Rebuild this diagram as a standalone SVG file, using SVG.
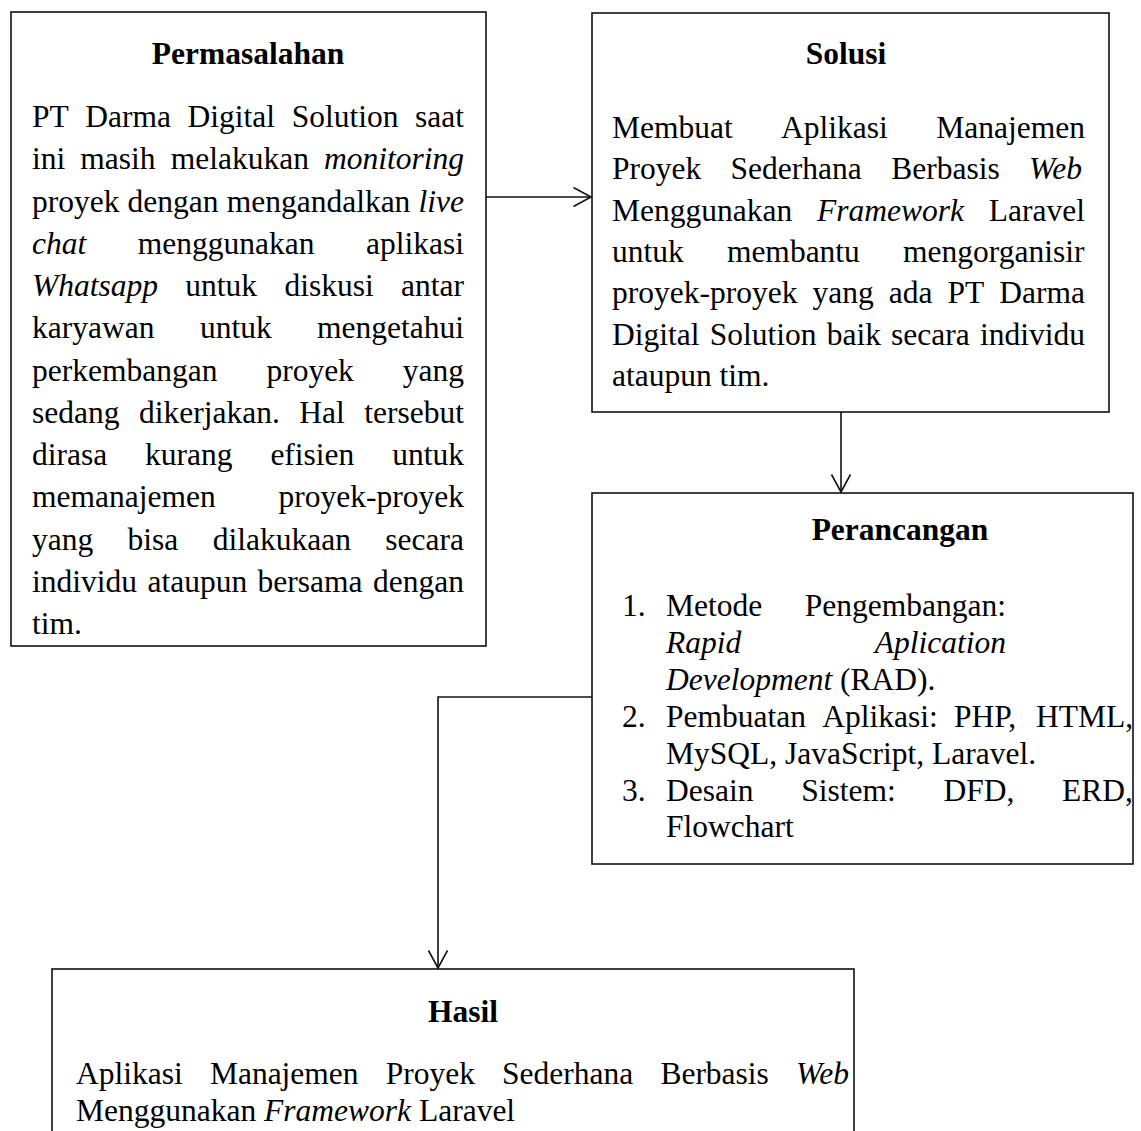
<svg xmlns="http://www.w3.org/2000/svg" width="1141" height="1131" viewBox="0 0 1141 1131">
<style>
text{font-family:"Liberation Serif","Times New Roman",serif;font-size:31.5px;fill:#000}
.b{font-weight:bold;text-anchor:middle}
.i{font-style:italic}
.box{fill:#fff;stroke:#111;stroke-width:1.6}
.con{fill:none;stroke:#111;stroke-width:1.6}
</style>
<defs>
<marker id="arr" markerWidth="22" markerHeight="22" refX="18" refY="10" orient="auto" markerUnits="userSpaceOnUse">
<path d="M0.5,0.5 L18,10 L0.5,19.5" fill="none" stroke="#111" stroke-width="1.6"/>
</marker>
</defs>
<rect x="0" y="0" width="1141" height="1131" fill="#fff"/>

<g id="permasalahan">
<rect class="box" x="11" y="12" width="475" height="634"/>
<text class="b" x="248" y="64">Permasalahan</text>
<text y="127"><tspan x="32">PT</tspan><tspan x="85.3">Darma</tspan><tspan x="187.6">Digital</tspan><tspan x="291.7">Solution</tspan><tspan x="415">saat</tspan></text>
<text y="169.25"><tspan x="32">ini</tspan><tspan x="80.3">masih</tspan><tspan x="170.7">melakukan</tspan><tspan x="324" class="i">monitoring</tspan></text>
<text y="211.5"><tspan x="32">proyek</tspan><tspan x="127.6">dengan</tspan><tspan x="226.7">mengandalkan</tspan><tspan x="418.5" class="i">live</tspan></text>
<text y="253.75"><tspan x="32" class="i">chat</tspan><tspan x="137.8">menggunakan</tspan><tspan x="366">aplikasi</tspan></text>
<text y="296"><tspan x="32" class="i">Whatsapp</tspan><tspan x="185.3">untuk</tspan><tspan x="284.4">diskusi</tspan><tspan x="401">antar</tspan></text>
<text y="338.25"><tspan x="32">karyawan</tspan><tspan x="199.9">untuk</tspan><tspan x="317">mengetahui</tspan></text>
<text y="380.5"><tspan x="32">perkembangan</tspan><tspan x="266.4">proyek</tspan><tspan x="402.8">yang</tspan></text>
<text y="422.75"><tspan x="32">sedang</tspan><tspan x="139">dikerjakan.</tspan><tspan x="299.3">Hal</tspan><tspan x="364.3">tersebut</tspan></text>
<text y="465"><tspan x="32">dirasa</tspan><tspan x="145.1">kurang</tspan><tspan x="270.4">efisien</tspan><tspan x="392.2">untuk</tspan></text>
<text y="507.25"><tspan x="32">memanajemen</tspan><tspan x="278.6">proyek-proyek</tspan></text>
<text y="549.5"><tspan x="32">yang</tspan><tspan x="127.6">bisa</tspan><tspan x="212.7">dilakukaan</tspan><tspan x="385.3">secara</tspan></text>
<text y="591.75"><tspan x="32">individu</tspan><tspan x="147.5">ataupun</tspan><tspan x="257.6">bersama</tspan><tspan x="373">dengan</tspan></text>
<text x="32" y="634">tim.</text>
</g>

<g id="solusi">
<rect class="box" x="592" y="13" width="517" height="399"/>
<text class="b" x="846" y="64">Solusi</text>
<text y="138"><tspan x="612">Membuat</tspan><tspan x="781.1">Aplikasi</tspan><tspan x="936.3">Manajemen</tspan></text>
<text y="179.3"><tspan x="612">Proyek</tspan><tspan x="730.6">Sederhana</tspan><tspan x="891.2">Berbasis</tspan><tspan x="1029" class="i">Web</tspan></text>
<text y="220.6"><tspan x="612">Menggunakan</tspan><tspan x="817" class="i">Framework</tspan><tspan x="988.8">Laravel</tspan></text>
<text y="261.9"><tspan x="612">untuk</tspan><tspan x="726.9">membantu</tspan><tspan x="903">mengorganisir</tspan></text>
<text y="303.2"><tspan x="612">proyek-proyek</tspan><tspan x="812.5">yang</tspan><tspan x="888.7">ada</tspan><tspan x="947.5">PT</tspan><tspan x="999.3">Darma</tspan></text>
<text y="344.5"><tspan x="612">Digital</tspan><tspan x="709.7">Solution</tspan><tspan x="826.7">baik</tspan><tspan x="891.1">secara</tspan><tspan x="980">individu</tspan></text>
<text x="612" y="385.8">ataupun tim.</text>
</g>

<g id="perancangan">
<rect class="box" x="592" y="493" width="541" height="371"/>
<text class="b" x="900" y="540">Perancangan</text>
<text y="616"><tspan x="622">1.</tspan><tspan x="666">Metode</tspan><tspan x="804.8">Pengembangan:</tspan></text>
<text y="652.9" class="i"><tspan x="666">Rapid</tspan><tspan x="874.7">Aplication</tspan></text>
<text x="666" y="689.8"><tspan class="i">Development</tspan> (RAD).</text>
<text y="726.7"><tspan x="622">2.</tspan><tspan x="666">Pembuatan</tspan><tspan x="822.2">Aplikasi:</tspan><tspan x="954">PHP,</tspan><tspan x="1035.9">HTML,</tspan></text>
<text x="666" y="763.6">MySQL, JavaScript, Laravel.</text>
<text y="800.5"><tspan x="622">3.</tspan><tspan x="666">Desain</tspan><tspan x="801.2">Sistem:</tspan><tspan x="943.5">DFD,</tspan><tspan x="1062.1">ERD,</tspan></text>
<text x="666" y="837.4">Flowchart</text>
</g>

<g id="hasil">
<rect class="box" x="52" y="969" width="802" height="200"/>
<text class="b" x="463" y="1022">Hasil</text>
<text y="1084"><tspan x="76">Aplikasi</tspan><tspan x="209.9">Manajemen</tspan><tspan x="385.7">Proyek</tspan><tspan x="502.1">Sederhana</tspan><tspan x="660.4">Berbasis</tspan><tspan x="796" class="i">Web</tspan></text>
<text x="76" y="1121">Menggunakan <tspan class="i">Framework</tspan> Laravel</text>
</g>

<g id="connectors">
<line class="con" x1="486" y1="197" x2="591" y2="197" marker-end="url(#arr)"/>
<line class="con" x1="841" y1="412" x2="841" y2="492" marker-end="url(#arr)"/>
<polyline class="con" points="592,697 438,697 438,968" marker-end="url(#arr)"/>
</g>
</svg>
